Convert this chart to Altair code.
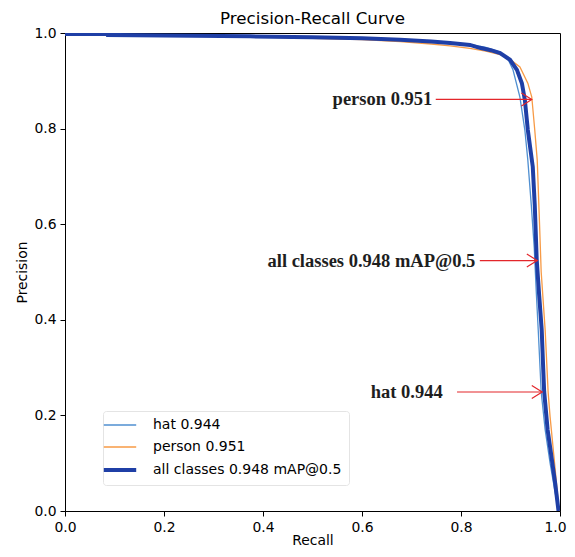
import altair as alt
import pandas as pd

series_names = ["hat 0.944", "person 0.951", "all classes 0.948 mAP@0.5"]
series_colors = ["#4f8fd1", "#f79a45", "#1f3fa6"]
series_widths = [1.3, 1.3, 4.0]

hat_recall = [0.0, 0.085, 0.2, 0.374, 0.5, 0.6, 0.677, 0.74, 0.778, 0.818, 0.85, 0.879, 0.895,
              0.905, 0.919, 0.929, 0.935, 0.942, 0.948, 0.952, 0.956, 0.962, 0.97, 0.98, 0.99, 0.997]
hat_precision = [0.998, 0.996, 0.995, 0.993, 0.991, 0.989, 0.987, 0.983, 0.980, 0.976, 0.970, 0.960, 0.945,
                 0.923, 0.866, 0.797, 0.734, 0.64, 0.55, 0.46, 0.379, 0.249, 0.17, 0.10, 0.04, 0.0]

person_recall = [0.0, 0.085, 0.2, 0.374, 0.5, 0.6, 0.677, 0.74, 0.778, 0.818, 0.85, 0.879, 0.899,
                 0.919, 0.935, 0.943, 0.949, 0.954, 0.958, 0.962, 0.97, 0.976, 0.98, 0.99, 0.998]
person_precision = [0.998, 0.997, 0.995, 0.992, 0.989, 0.986, 0.982, 0.977, 0.973, 0.968, 0.962, 0.955, 0.945,
                    0.929, 0.895, 0.866, 0.797, 0.734, 0.62, 0.50, 0.379, 0.249, 0.197, 0.09, 0.0]

all_recall = [0.0, 0.085, 0.086, 0.2, 0.374, 0.5, 0.6, 0.677, 0.74, 0.778, 0.818, 0.838, 0.86, 0.879,
              0.899, 0.913, 0.923, 0.929, 0.935, 0.945, 0.949, 0.953, 0.958, 0.963, 0.966, 0.968,
              0.975, 0.98, 0.99, 0.997]
all_precision = [0.998, 0.998, 0.996, 0.995, 0.993, 0.991, 0.989, 0.986, 0.982, 0.979, 0.975, 0.969, 0.964, 0.958,
                 0.944, 0.923, 0.895, 0.86, 0.797, 0.72, 0.64, 0.525, 0.45, 0.38, 0.30, 0.25,
                 0.17, 0.134, 0.06, 0.0]

note_texts = ["person 0.951", "all classes 0.948 mAP@0.5", "hat 0.944"]
note_text_recall = [0.742, 0.829, 0.763]
note_precision = [0.861, 0.524, 0.249]
arrow_start = [0.749, 0.838, 0.792]
arrow_end = [0.943, 0.954, 0.964]

axis_ticks = [0.0, 0.2, 0.4, 0.6, 0.8, 1.0]

rows = []
for name, rs, ps in zip(series_names, [hat_recall, person_recall, all_recall],
                        [hat_precision, person_precision, all_precision]):
    for i, (r, p) in enumerate(zip(rs, ps)):
        rows.append({"series": name, "recall": r, "precision": p, "idx": i})
curves = pd.DataFrame(rows)

notes = pd.DataFrame({"text": note_texts, "tr": note_text_recall, "p": note_precision,
                      "r0": arrow_start, "r1": arrow_end})

xscale = alt.Scale(domain=[0, 1], nice=False, zero=False)
yscale = alt.Scale(domain=[0, 1], nice=False, zero=False)
xaxis = alt.Axis(values=axis_ticks, format=".1f", title="Recall", labelFlush=False, labelOverlap=False,
                 titleY=33, titleBaseline="alphabetic",
                 labelOffset={"condition": {"test": "datum.value === 1", "value": -5}, "value": 0})
yaxis = alt.Axis(values=axis_ticks, format=".1f", title="Precision", labelFlush=False, labelOverlap=False)

color_scale = alt.Scale(domain=series_names, range=series_colors)

width_expr = "datum.value === '%s' ? %s : %s" % (series_names[2], series_widths[2], 1.6)

legend = alt.Legend(title=None, orient="none", legendX=38, legendY=378,
                    symbolType="M -1.1 0 L 1.6 0", symbolSize=576,
                    symbolStrokeWidth={"expr": width_expr}, symbolFillColor="transparent",
                    labelFontSize=14, labelFont="DejaVu Sans", labelColor="black",
                    padding=7, strokeColor="#e4e4e4", fillColor="white", cornerRadius=3,
                    labelOffset=29, rowPadding=8, labelLimit=400)

layers = []
for name, w in zip(series_names, series_widths):
    layers.append(
        alt.Chart(curves).transform_filter(alt.datum.series == name).mark_line(clip=True, strokeWidth=w).encode(
            x=alt.X("recall:Q", scale=xscale, axis=xaxis),
            y=alt.Y("precision:Q", scale=yscale, axis=yaxis),
            color=alt.Color("series:N", scale=color_scale, sort=series_names, legend=legend),
            order="idx:Q",
        )
    )

arrows = alt.Chart(notes).mark_rule(color="#e3262b", strokeWidth=1.2).encode(
    x=alt.X("r0:Q", scale=xscale), x2="r1:Q", y=alt.Y("p:Q", scale=yscale)
)
heads = alt.Chart(notes).mark_point(shape="M -1.6 -1 L 0 0 L -1.6 1", filled=False, size=169,
                                    color="#e3262b", strokeWidth=1.2, opacity=1).encode(
    x=alt.X("r1:Q", scale=xscale), y=alt.Y("p:Q", scale=yscale)
)
labels = alt.Chart(notes).mark_text(align="right", baseline="middle", font="Liberation Serif",
                                    fontWeight="bold", fontSize=18.5, color="#1e1e1e").encode(
    x=alt.X("tr:Q", scale=xscale), y=alt.Y("p:Q", scale=yscale), text="text:N"
)

chart = alt.layer(*layers, arrows, heads, labels).properties(
    width=495, height=478,
    title=alt.TitleParams("Precision-Recall Curve", fontSize=16.7, font="DejaVu Sans",
                          fontWeight="normal", color="black", offset=-2, frame="group"),
    autosize="none",
    padding={"left": 57, "top": 25, "right": 7, "bottom": 37},
).configure_axis(
    labelFont="DejaVu Sans", labelFontSize=13.9, titleFont="DejaVu Sans", titleFontSize=13.9,
    titleFontWeight="normal", labelColor="black", titleColor="black", tickColor="black",
    domainColor="black", tickSize=5, labelPadding=4, titlePadding=4, grid=False
).configure_view(stroke="black", strokeWidth=1)

chart.save("out.html", embed_options={"renderer": "svg", "actions": False})
